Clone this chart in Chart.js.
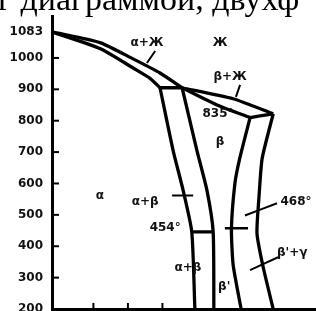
<!DOCTYPE html>
<html>
<head>
<meta charset="utf-8">
<script src="https://cdn.jsdelivr.net/npm/chart.js@4.4.1/dist/chart.umd.min.js"></script>
<style>
  html, body { margin: 0; padding: 0; background: #fff; overflow: hidden; }
  #wrap { position: relative; width: 316px; height: 311px; overflow: hidden; background: #fff; }
  #chart { position: absolute; left: 0; top: 0; }
  #caption { position: absolute; left: -2px; top: -18px; font: 34px/34px "Liberation Serif", serif; white-space: nowrap; color: #000; }
</style>
</head>
<body>
<div id="wrap">
  <canvas id="chart" width="316" height="330"></canvas>
  <div id="caption">г диаграммой, двухф</div>
</div>
<script>
// axis ticks
var tempTicks = [200, 300, 400, 500, 600, 700, 800, 900, 1000, 1083];
var znTicks = [12, 22, 32];

// alpha + liquid lens
var liqAlphaZn = [0, 13.9, 23.5, 31.3, 37.7];
var liqAlphaT = [1083, 1049, 997, 952, 905];
var solAlphaZn = [0, 13.9, 23.5, 28.4, 31.3];
var solAlphaT = [1083, 1030, 968, 935, 905];
var peri902Zn = [31.3, 37.7];
var peri902T = [905, 905];

// beta + liquid lens
var liqBetaZn = [37.7, 52.5, 64.1];
var liqBetaT = [905, 870, 822];
var solBetaZn = [37.7, 47.8, 57.4];
var solBetaT = [905, 850, 810];
var peri835Zn = [57.4, 64.1];
var peri835T = [810, 822];

// solvus lines
var alphaLineZn = [31.3, 35.1, 38.0, 40.5, 41.4];
var alphaLineT = [905, 705, 578, 446, 200];
var betaLineZn = [37.7, 42.0, 44.9, 46.7, 46.9];
var betaLineT = [905, 705, 578, 446, 200];
var betaRightZn = [57.4, 54.4, 53.0, 52.0, 52.5, 54.8];
var betaRightT = [810, 680, 600, 455, 340, 200];
var gammaLineZn = [64.1, 60.9, 60.0, 59.4, 61.2, 64.1];
var gammaLineT = [822, 680, 560, 441, 333, 200];

// ordering lines
var iso454Zn = [40.5, 46.7];
var iso454T = [446, 446];
var iso468Zn = [50.1, 56.8];
var iso468T = [457, 457];

// label leaders
var leaderZn = [[27.5, 29.9], [53.3, 54.5], [34.8, 40.9], [55.9, 65.2], [57.4, 65.5]];
var leaderT = [[984, 1022], [876, 914], [562, 562], [498, 537], [324, 365]];

// region labels
var labelText = ["α+Ж", "Ж", "β+Ж", "835°", "β", "α", "α+β", "454°", "468°", "β'+γ", "α+β", "β'"];
var labelZn = [27.5, 48.7, 51.6, 48.1, 48.7, 13.9, 27.0, 32.8, 70.7, 65.2, 39.4, 49.9];
var labelT = [1048, 1048, 940, 822, 733, 559, 540, 457, 540, 378, 330, 270];

function curve(zn, t, w) {
  return {
    data: zn.map(function (x, i) { return { x: x, y: t[i] }; }),
    showLine: true,
    borderColor: "#000",
    borderWidth: w || 3.3,
    pointRadius: 0,
    tension: 0.2,
    fill: false
  };
}

var datasets = [
  curve(liqAlphaZn, liqAlphaT),
  curve(solAlphaZn, solAlphaT),
  curve(peri902Zn, peri902T),
  curve(liqBetaZn, liqBetaT),
  curve(solBetaZn, solBetaT),
  curve(peri835Zn, peri835T),
  curve(alphaLineZn, alphaLineT),
  curve(betaLineZn, betaLineT),
  curve(betaRightZn, betaRightT),
  curve(gammaLineZn, gammaLineT),
  curve(iso454Zn, iso454T),
  curve(iso468Zn, iso468T, 2.5)
];
leaderZn.forEach(function (zn, i) {
  datasets.push(curve(zn, leaderT[i], 2));
});

var decorPlugin = {
  id: "decor",
  afterDatasetsDraw: function (chart) {
    var ctx = chart.ctx;
    var xs = chart.scales.x;
    var ys = chart.scales.y;
    ctx.save();
    ctx.strokeStyle = "#000";
    ctx.lineWidth = 2;
    // inner tick marks on temperature axis
    tempTicks.forEach(function (t) {
      if (t === 200 || t === 1083) return;
      var py = ys.getPixelForValue(t);
      ctx.beginPath();
      ctx.moveTo(xs.left + 1, py);
      ctx.lineTo(xs.left + 7, py);
      ctx.stroke();
    });
    znTicks.forEach(function (z) {
      var px = xs.getPixelForValue(z);
      ctx.beginPath();
      ctx.moveTo(px, ys.bottom);
      ctx.lineTo(px, ys.bottom - 6);
      ctx.stroke();
    });
    // region labels
    ctx.fillStyle = "#111";
    ctx.font = "bold 12px 'DejaVu Sans'";
    ctx.textAlign = "center";
    ctx.textBaseline = "middle";
    labelText.forEach(function (txt, i) {
      var px = xs.getPixelForValue(labelZn[i]);
      var py = ys.getPixelForValue(labelT[i]);
      if (txt === "β'+γ") {
        ctx.textAlign = "left";
        ctx.fillText(txt, px, py);
        ctx.textAlign = "center";
      } else {
        ctx.fillText(txt, px, py);
      }
    });
    ctx.restore();
  }
};

new Chart(document.getElementById("chart"), {
  type: "scatter",
  data: { datasets: datasets },
  options: {
    responsive: false,
    animation: false,
    devicePixelRatio: 1,
    layout: { padding: { top: 15, bottom: 21, left: 0, right: 0 } },
    plugins: { legend: { display: false }, tooltip: { enabled: false } },
    scales: {
      x: {
        type: "linear",
        min: 0,
        max: 76.5,
        ticks: { display: false },
        grid: { drawOnChartArea: false, drawTicks: false },
        border: { color: "#000", width: 3 },
        afterFit: function (s) { s.height = 0; }
      },
      y: {
        type: "linear",
        min: 200,
        max: 1133,
        afterBuildTicks: function (s) {
          s.ticks = tempTicks.map(function (v) { return { value: v }; });
        },
        ticks: {
          padding: 9,
          color: "#111",
          font: { family: "DejaVu Sans", size: 12, weight: "bold" },
          callback: function (v) { return String(v); }
        },
        grid: { drawOnChartArea: false, drawTicks: false },
        border: { color: "#000", width: 3 },
        afterFit: function (s) { s.width = 52; }
      }
    }
  },
  plugins: [decorPlugin]
});
</script>
</body>
</html>
